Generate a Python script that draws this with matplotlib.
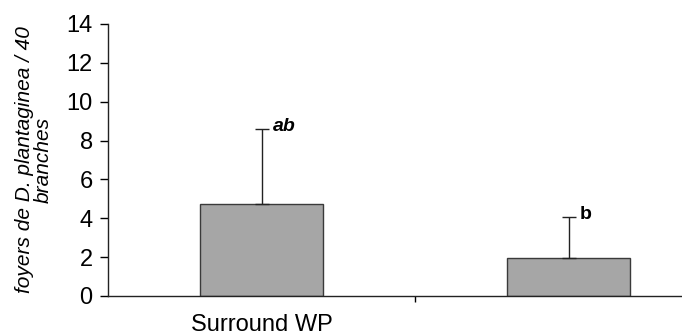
import matplotlib.pyplot as plt
import numpy as np

plt.rcParams["font.family"] = ["Liberation Sans", "DejaVu Sans"]

categories = ["Surround WP", ""]
means = [4.72, 1.97]
err_up = [3.88, 2.08]
letters = ["ab", "b"]
letter_styles = ["italic", "normal"]


def main():
    fig = plt.figure(figsize=(6.82, 3.36), dpi=100)
    ax = fig.add_axes([108 / 682, 40 / 336, 614 / 682, 272 / 336])
    x = np.arange(len(means))
    ax.bar(x, means, 0.40, color="#a6a6a6", edgecolor="#3a3a3a", linewidth=1.0, zorder=2)
    ax.errorbar(x, means, yerr=[np.zeros(len(means)), err_up], fmt="none",
                ecolor="#222222", elinewidth=1.0, capsize=5, capthick=1.0, zorder=3)
    for xi, m, e, lab, st in zip(x, means, err_up, letters, letter_styles):
        ax.annotate(lab, (xi, m + e), xytext=(8, 2), textcoords="offset points",
                    ha="left", va="center", fontsize=14, fontweight="bold", style=st)

    ax.set_xlim(-0.5, 1.5)
    ax.set_ylim(0, 14)
    ax.set_yticks(np.arange(0, 15, 2))
    ax.set_xticks([0.5])
    ax.set_xticklabels([])
    ax.set_xticks(x, minor=True)
    ax.set_xticklabels(categories, minor=True, fontsize=17)
    ax.tick_params(axis="x", which="minor", length=0, pad=13)
    ax.tick_params(axis="x", which="major", direction="out", length=4, width=1)
    ax.tick_params(axis="y", direction="out", length=6, width=1, pad=5, labelsize=17)
    for side in ["top", "right"]:
        ax.spines[side].set_visible(False)
    for side in ["left", "bottom"]:
        ax.spines[side].set_linewidth(1.0)
        ax.spines[side].set_color("#222222")
    ax.set_ylabel("foyers de D. plantaginea / 40\nbranches", style="italic",
                  fontsize=15, labelpad=10, linespacing=1.0)
    fig.savefig("out.png", dpi=100)


if __name__ == "__main__":
    main()
